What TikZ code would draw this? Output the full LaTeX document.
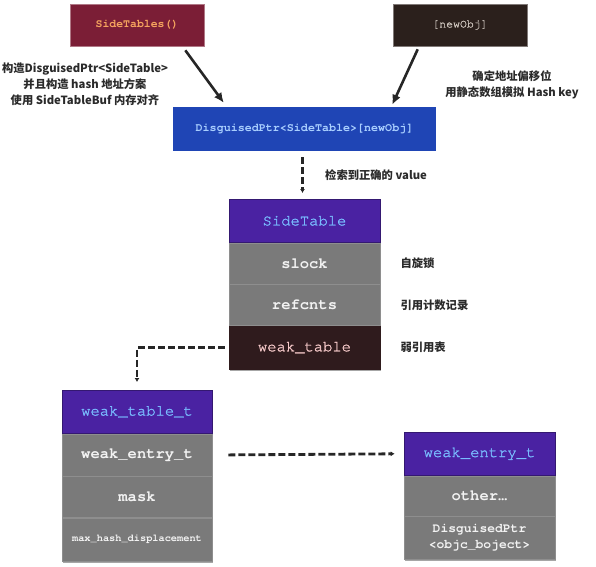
\documentclass[tikz,border=0pt]{standalone}
\usepackage{fontspec}
\setmainfont{Liberation Sans}
\setmonofont{TeX Gyre Cursor}
\newfontfamily\medmono{TeX Gyre Cursor}[FakeBold=1.2]
\newfontfamily\cjk{Noto Sans CJK SC}
\usetikzlibrary{arrows.meta,calc,shadows}
\definecolor{stfill}{HTML}{7B1E36}
\definecolor{sttext}{HTML}{F5A45E}
\definecolor{nofill}{HTML}{2B201C}
\definecolor{notext}{HTML}{CFC6BE}
\definecolor{dpfill}{HTML}{1F45B5}
\definecolor{dptext}{HTML}{A9CFFF}
\definecolor{hdrc}{HTML}{4A22A2}
\definecolor{hdrt}{HTML}{79BCFF}
\definecolor{rowc}{HTML}{7A7A7A}
\definecolor{rowline}{HTML}{8E8E8E}
\definecolor{rowt}{HTML}{F2F2F2}
\definecolor{wkfill}{HTML}{2F1B1D}
\definecolor{wktext}{HTML}{F5C8C8}
\definecolor{lbl}{HTML}{2A2A2A}
\tikzset{
  shade box/.style={drop shadow={shadow xshift=0.8pt, shadow yshift=-1.8pt, opacity=0.35, fill=black}},
  topbox/.style={rectangle, minimum width=134pt, minimum height=42pt, inner sep=0pt,
    font=\ttfamily\bfseries\fontsize{11.5}{12}\selectfont},
  hdr/.style={rectangle, minimum width=151pt, minimum height=43pt, inner sep=0pt,
    fill=hdrc, draw=hdrc!70!black, line width=0.6pt, text=hdrt, shade box,
    font=\medmono\fontsize{15.5}{16}\selectfont},
  row/.style={rectangle, minimum width=151pt, minimum height=41pt, inner sep=0pt,
    fill=rowc, draw=rowline, line width=0.6pt, text=rowt, shade box,
    font=\ttfamily\bfseries\fontsize{15.5}{16}\selectfont},
  note/.style={text=lbl, font=\cjk\bfseries\fontsize{11.3}{16}\selectfont, inner sep=0pt},
  solidarrow/.style={line width=2.6pt, draw=black!85, -{Latex[length=10pt,width=9pt]}},
  dasharrow/.style={line width=2.8pt, draw=black!85, dash pattern=on 7pt off 3pt,
    -{Latex[length=4pt,width=5pt]}}
}
\begin{document}
\begin{tikzpicture}[x=1pt,y=-1pt]
\useasboundingbox (0,0) rectangle (596,566);

% top boxes
\node[topbox, fill=stfill, draw=stfill!60!white, line width=0.6pt, text=sttext] (st) at (137,25) {SideTables()};
\node[topbox, fill=nofill, draw=nofill!60!white, line width=0.6pt, text=notext,
  font=\medmono\fontsize{11.5}{12}\selectfont] (no) at (460,25) {[newObj]};
\node[rectangle, minimum width=263pt, minimum height=44pt, inner sep=0pt, fill=dpfill,
  text=dptext, font=\ttfamily\bfseries\fontsize{11.7}{12}\selectfont] (dp) at (304.5,129)
  {DisguisedPtr<SideTable>[newObj]};

\draw[solidarrow] ($(st.south east)+(-19,4)$) -- ($(dp.north west)+(51,-4)$);
\draw[solidarrow] ($(no.south west)+(25,3)$) -- ($(dp.north east)+(-44,-2)$);

\node[note, align=center] (ln) at (85,84) {构造DisguisedPtr<SideTable>\\并且构造 hash 地址方案\\使用 SideTableBuf 内存对齐};
\node[note, align=center] (rn) at (512,85) {确定地址偏移位\\用静态数组模拟 Hash key};

% SideTable stack
\node[hdr, anchor=north] (sth) at (304.5,199) {SideTable};
\node[row, anchor=north] (sl) at (sth.south) {slock};
\node[row, anchor=north] (rc) at (sl.south) {refcnts};
\node[row, anchor=north, minimum height=43pt, fill=wkfill, draw=wkfill, text=wktext,
  font=\medmono\fontsize{15.5}{16}\selectfont] (wt) at (rc.south) {weak\_table};

\draw[dasharrow] ($(dp.south)+(-2,6)$) -- ($(sth.north)+(-2,-6)$);
\node[note, anchor=west] (vl) at (325,175) {检索到正确的 value};
\node[note, anchor=west] (l1) at ($(sl.east)+(20,0)$) {自旋锁};
\node[note, anchor=west] (l2) at ($(rc.east)+(20,0)$) {引用计数记录};
\node[note, anchor=west] (l3) at ($(wt.east)+(20,0)$) {弱引用表};

% weak_table_t stack
\node[hdr, anchor=north, minimum width=150pt] (wth) at (137,390) {weak\_table\_t};
\node[row, anchor=north, minimum width=150pt, minimum height=42pt] (we) at (wth.south) {weak\_entry\_t};
\node[row, anchor=north, minimum width=150pt] (mk) at (we.south) {mask};
\node[row, anchor=north, minimum width=150pt, minimum height=43pt,
  font=\ttfamily\bfseries\fontsize{10.3}{12}\selectfont] (mh) at (mk.south) {max\_hash\_displacement};

\draw[dasharrow] ($(wt.west)+(-4,0)$) -| ($(wth.north)+(0,-8)$);

% weak_entry_t stack
\node[hdr, anchor=north] (weh) at (479.5,432) {weak\_entry\_t};
\node[row, anchor=north, minimum height=40pt] (ot) at (weh.south) {other…};
\node[row, anchor=north, minimum height=43pt, align=center,
  font=\ttfamily\bfseries\fontsize{13}{16}\selectfont] (dpo) at (ot.south) {DisguisedPtr\\<objc\_boject>};

\draw[dasharrow] ($(we.east)+(16,0)$) -- ($(weh.west)+(-9,0)$);
\end{tikzpicture}
\end{document}
